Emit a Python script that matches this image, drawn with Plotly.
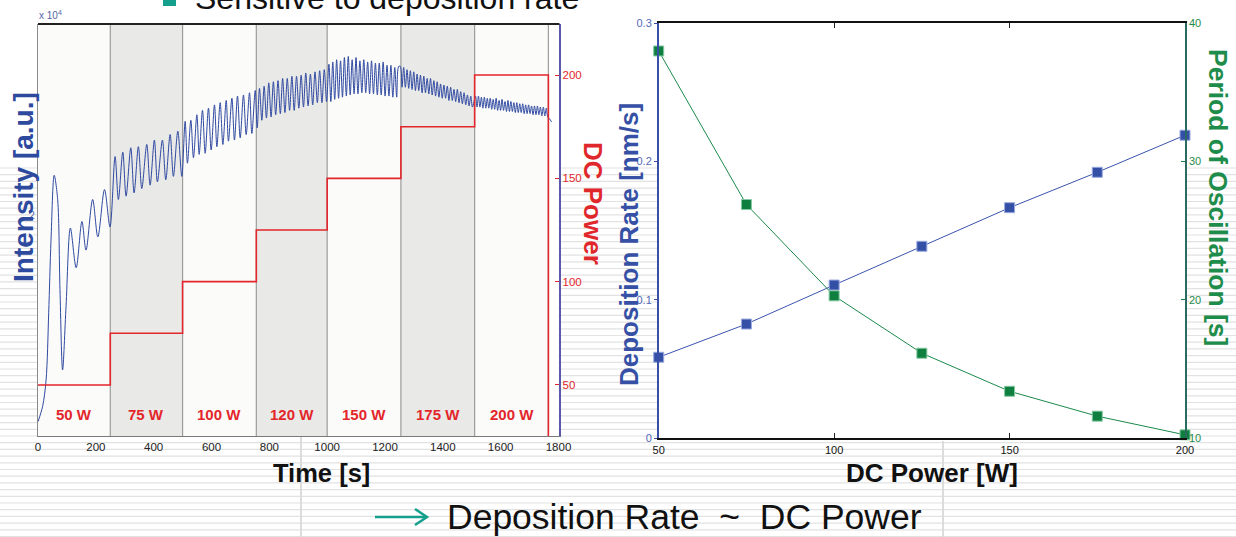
import plotly.graph_objects as go

W, H = 1236, 537

def px(x):
    return x / W

def py(y):
    return 1 - y / H

FONT = "Liberation Sans, Arial, Helvetica, sans-serif"

# ---------------- left chart data ----------------
time_ticks = [0, 200, 400, 600, 800, 1000, 1200, 1400, 1600, 1800]
step_bounds = [0, 250, 500, 755, 1000, 1255, 1510, 1765]
dc_power_steps = [50, 75, 100, 125, 150, 175, 200]
step_labels = ["50 W", "75 W", "100 W", "120 W", "150 W", "175 W", "200 W"]
power_axis_ticks = [50, 100, 150, 200]
power_axis_range = [25.3, 224.7]
intensity_range = [0.0, 3.745]

# intensity trace (x 10^4 a.u.): start-up transient
seg1_t = [0, 16, 28, 37, 45, 56, 68, 76, 85, 97, 112, 132, 152, 166, 189, 207, 230, 249]
seg1_I = [0.13, 0.27, 0.51, 1.12, 1.78, 2.37, 2.15, 1.33, 0.60, 1.18, 1.89, 1.53, 1.95, 1.69, 2.15, 1.81, 2.24, 1.90]

# oscillation maxima / minima, per power step
seg2_peak_t = [266.5, 293.2, 320.9, 347.1, 376.2, 402.5, 430.2, 456.9, 483.5]
seg2_peak_I = [2.54, 2.58, 2.62, 2.63, 2.65, 2.69, 2.69, 2.74, 2.77]
seg2_trough_t = [278.0, 304.6, 332.3, 359.0, 387.7, 412.9, 441.9, 468.2, 497.3]
seg2_trough_I = [2.15, 2.18, 2.21, 2.25, 2.28, 2.31, 2.33, 2.36, 2.36]

seg3_peak_t = [508.8, 528.6, 549.4, 568.8, 589.5, 610.3, 630.0, 650.8, 670.5, 689.9, 710.6, 731.4, 751.2]
seg3_peak_I = [2.86, 2.87, 2.92, 2.96, 2.98, 3.01, 3.03, 3.05, 3.07, 3.09, 3.10, 3.12, 3.14]
seg3_trough_t = [516.8, 537.6, 557.3, 578.1, 598.8, 618.6, 639.3, 658.6, 679.4, 699.2, 719.9, 739.6, 758.0]
seg3_trough_I = [2.48, 2.53, 2.56, 2.57, 2.60, 2.63, 2.65, 2.68, 2.69, 2.71, 2.74, 2.75, 2.80]

seg4_peak_t = [766, 782, 798, 814, 830, 846, 862, 878, 894, 910, 926, 942, 958, 974, 990]
seg4_peak_I = [3.16, 3.18, 3.21, 3.22, 3.23, 3.25, 3.25, 3.27, 3.27, 3.28, 3.30, 3.29, 3.31, 3.32, 3.33]
seg4_trough_t = [774, 790, 806, 822, 838, 854, 870, 886, 902, 918, 934, 950, 966, 982, 998]
seg4_trough_I = [2.87, 2.89, 2.90, 2.92, 2.93, 2.94, 2.96, 2.96, 2.98, 2.99, 3.00, 3.01, 3.03, 3.03, 3.04]

seg5_peak_t = [1006.0, 1019.4, 1032.8, 1046.2, 1059.6, 1073.0, 1086.4, 1099.8, 1113.2, 1126.6,
               1140.0, 1153.4, 1166.8, 1180.2, 1193.6, 1207.0, 1220.4, 1233.8, 1247.2]
seg5_peak_I = [3.38, 3.40, 3.42, 3.41, 3.44, 3.45, 3.42, 3.44, 3.41, 3.42,
               3.40, 3.41, 3.39, 3.39, 3.40, 3.37, 3.37, 3.35, 3.36]
seg5_trough_t = [1012.7, 1026.1, 1039.5, 1052.9, 1066.3, 1079.7, 1093.1, 1106.5, 1119.9,
                 1133.3, 1146.7, 1160.1, 1173.5, 1186.9, 1200.3, 1213.7, 1227.1, 1240.5]
seg5_trough_I = [3.04, 3.06, 3.07, 3.08, 3.09, 3.10, 3.11, 3.11, 3.12,
                 3.12, 3.11, 3.11, 3.10, 3.10, 3.09, 3.09, 3.08, 3.08]

seg6_peak_t = [1253.0, 1264.6, 1276.2, 1287.8, 1299.4, 1311.0, 1322.6, 1334.2, 1345.8, 1357.4, 1369.0,
               1380.6, 1392.2, 1403.8, 1415.4, 1427.0, 1438.6, 1450.2, 1461.8, 1473.4, 1485.0, 1496.6]
seg6_peak_I = [3.36, 3.35, 3.33, 3.32, 3.31, 3.29, 3.28, 3.27, 3.25, 3.25, 3.23,
               3.22, 3.20, 3.19, 3.18, 3.17, 3.15, 3.15, 3.13, 3.12, 3.10, 3.09]
seg6_trough_t = [1258.8, 1270.4, 1282.0, 1293.6, 1305.2, 1316.8, 1328.4, 1340.0, 1351.6, 1363.2, 1374.8,
                 1386.4, 1398.0, 1409.6, 1421.2, 1432.8, 1444.4, 1456.0, 1467.6, 1479.2, 1490.8, 1502.4]
seg6_trough_I = [3.17, 3.17, 3.16, 3.15, 3.14, 3.14, 3.12, 3.12, 3.11, 3.10, 3.09,
                 3.08, 3.07, 3.07, 3.05, 3.05, 3.04, 3.03, 3.02, 3.01, 3.00, 2.99]

seg7_peak_t = [1513.0, 1523.2, 1533.4, 1543.6, 1553.8, 1564.0, 1574.2, 1584.4, 1594.6, 1604.8, 1615.0, 1625.2,
               1635.4, 1645.6, 1655.8, 1666.0, 1676.2, 1686.4, 1696.6, 1706.8, 1717.0, 1727.2, 1737.4, 1747.6, 1757.8]
seg7_peak_I = [3.09, 3.09, 3.08, 3.08, 3.07, 3.07, 3.06, 3.07, 3.05, 3.06, 3.04, 3.05,
               3.04, 3.03, 3.03, 3.02, 3.02, 3.01, 3.01, 3.00, 3.00, 3.00, 2.99, 2.99, 2.98]
seg7_trough_t = [1518.1, 1528.3, 1538.5, 1548.7, 1558.9, 1569.1, 1579.3, 1589.5, 1599.7, 1609.9, 1620.1, 1630.3,
                 1640.5, 1650.7, 1660.9, 1671.1, 1681.3, 1691.5, 1701.7, 1711.9, 1722.1, 1732.3, 1742.5, 1752.7, 1762.9]
seg7_trough_I = [2.99, 2.99, 2.98, 2.98, 2.98, 2.97, 2.97, 2.96, 2.96, 2.96, 2.95, 2.95,
                 2.95, 2.94, 2.94, 2.94, 2.93, 2.93, 2.93, 2.92, 2.92, 2.92, 2.91, 2.91, 2.90]
tail_t = [1770, 1776]
tail_I = [2.88, 2.855]

# ---------------- right chart data ----------------
power_w = [50, 75, 100, 125, 150, 175, 200]
dep_rate = [0.0586, 0.0826, 0.1108, 0.1388, 0.1667, 0.1923, 0.2191]
osc_period = [38.0, 26.9, 20.3, 16.15, 13.4, 11.6, 10.25]
power_ticks = [50, 100, 150, 200]
rate_ticks = [0, 0.1, 0.2, 0.3]
rate_tick_text = ["0", "0.1", "0.2", "0.3"]
period_ticks = [10, 20, 30, 40]

# ---------------- assemble intensity series ----------------
pairs = list(zip(seg1_t, seg1_I))
for pt, pi, tt, ti in [
    (seg2_peak_t, seg2_peak_I, seg2_trough_t, seg2_trough_I),
    (seg3_peak_t, seg3_peak_I, seg3_trough_t, seg3_trough_I),
    (seg4_peak_t, seg4_peak_I, seg4_trough_t, seg4_trough_I),
    (seg5_peak_t, seg5_peak_I, seg5_trough_t, seg5_trough_I),
    (seg6_peak_t, seg6_peak_I, seg6_trough_t, seg6_trough_I),
    (seg7_peak_t, seg7_peak_I, seg7_trough_t, seg7_trough_I),
]:
    pairs += list(zip(pt, pi)) + list(zip(tt, ti))
pairs += list(zip(tail_t, tail_I))
pairs.sort(key=lambda p: p[0])
int_t = [p[0] for p in pairs]
int_v = [p[1] for p in pairs]

BLUE = "#2f49a1"
RED = "#e3262b"
GREEN = "#0f7f3f"
TEAL = "#14a08d"

fig = go.Figure()

fig.add_trace(go.Scatter(
    x=int_t, y=int_v, mode="lines", line=dict(color=BLUE, width=1, shape="spline", smoothing=0.9),
    xaxis="x", yaxis="y", showlegend=False, hoverinfo="skip"))

step_x = step_bounds[:-1] + [step_bounds[-1], step_bounds[-1]]
step_y = dc_power_steps + [dc_power_steps[-1], power_axis_range[0]]
fig.add_trace(go.Scatter(
    x=step_x, y=step_y, mode="lines", line=dict(color=RED, width=1.6, shape="hv"),
    xaxis="x", yaxis="y2", showlegend=False, hoverinfo="skip"))

fig.add_trace(go.Scatter(
    x=power_w, y=dep_rate, mode="lines+markers",
    line=dict(color="#3a54ad", width=1),
    marker=dict(symbol="square", size=10, color="#3450a6", line=dict(color="#9aaae0", width=1)),
    xaxis="x2", yaxis="y3", showlegend=False, cliponaxis=False))

fig.add_trace(go.Scatter(
    x=power_w, y=osc_period, mode="lines+markers",
    line=dict(color="#1a8a4a", width=1),
    marker=dict(symbol="square", size=10, color=GREEN, line=dict(color="#86c9a3", width=1)),
    xaxis="x2", yaxis="y4", showlegend=False, cliponaxis=False))

L_X0, L_X1, L_Y0, L_Y1 = 38, 558.5, 24, 436
R_X0, R_X1, R_Y0, R_Y1 = 658.7, 1185, 23.3, 438.3

fig.update_layout(
    width=W, height=H,
    margin=dict(l=0, r=0, t=0, b=0, autoexpand=False),
    paper_bgcolor="white", plot_bgcolor="white",
    font=dict(family=FONT),
    xaxis=dict(domain=[px(L_X0), px(L_X1)], range=[0, 1800], tickvals=time_ticks,
               showline=True, linecolor="#7a7a7a", linewidth=1.2, ticks="",
               tickfont=dict(size=11.5, color="#222"), showgrid=False, zeroline=False, anchor="y"),
    yaxis=dict(domain=[py(L_Y1), py(L_Y0)], range=intensity_range, tickvals=[2], ticktext=["2"],
               showline=True, linecolor="#8a8a8a", linewidth=1.2, ticks="",
               tickfont=dict(size=10, color="#5566aa"), showgrid=False, zeroline=False, anchor="x"),
    yaxis2=dict(overlaying="y", side="right", range=power_axis_range, tickvals=power_axis_ticks,
                showline=True, linecolor="#5a5aa8", linewidth=1.5, ticks="inside", ticklen=4,
                tickcolor=RED, tickfont=dict(size=11.5, color=RED), showgrid=False, zeroline=False,
                anchor="x"),
    xaxis2=dict(domain=[px(R_X0), px(R_X1)], range=[50, 200], tickvals=power_ticks,
                showline=True, linecolor="#111", linewidth=2.2, ticks="inside", ticklen=5,
                tickcolor="#222", mirror="ticks", tickfont=dict(size=11, color="#111"),
                showgrid=False, zeroline=False, anchor="y3"),
    yaxis3=dict(domain=[py(R_Y1), py(R_Y0)], range=[0, 0.3], tickvals=rate_ticks, ticktext=rate_tick_text,
                showline=True, linecolor="#3a50a8", linewidth=1.5, ticks="outside", ticklen=3,
                tickcolor="#3a50a8", tickfont=dict(size=11, color="#5468b8"), showgrid=False,
                zeroline=False, anchor="x2"),
    yaxis4=dict(overlaying="y3", side="right", range=[10, 40], tickvals=period_ticks,
                showline=True, linecolor="#2a6a60", linewidth=1.5, ticks="inside", ticklen=4,
                tickcolor="#208050", tickfont=dict(size=11, color="#1f8a4c"), showgrid=False,
                zeroline=False, anchor="x2"),
)

shapes = []
# slide background stripes
y = 168.0
while y < H:
    shapes.append(dict(type="line", xref="paper", yref="paper", x0=0, x1=1, y0=py(y), y1=py(y),
                       line=dict(color="#e2e2e2", width=1.2), layer="below"))
    y += 6.7
for vx, vy0 in [(301, 437), (943, 441)]:
    shapes.append(dict(type="line", xref="paper", yref="paper", x0=px(vx), x1=px(vx), y0=py(vy0), y1=0,
                       line=dict(color="#dcdcdc", width=2), layer="below"))
# cover plot areas
for (a, b, c, d) in [(L_X0, L_X1, L_Y0, L_Y1), (R_X0, R_X1, R_Y0, R_Y1)]:
    shapes.append(dict(type="rect", xref="paper", yref="paper", x0=px(a), x1=px(b), y0=py(d), y1=py(c),
                       fillcolor="white", line=dict(width=0), layer="below"))
# power-step regions
for i in range(len(dc_power_steps)):
    shapes.append(dict(type="rect", xref="x", yref="y domain", x0=step_bounds[i], x1=step_bounds[i + 1],
                       y0=0, y1=1, fillcolor="#fbfbf9" if i % 2 == 0 else "#e9e9e7",
                       line=dict(width=0), layer="below"))
for b in step_bounds[1:]:
    shapes.append(dict(type="line", xref="x", yref="y domain", x0=b, x1=b, y0=0, y1=1,
                       line=dict(color="#9c9c9c", width=1.2), layer="below"))
# top border of left chart
shapes.append(dict(type="line", xref="paper", yref="paper", x0=px(L_X0), x1=px(559.5), y0=py(L_Y0), y1=py(L_Y0),
                   line=dict(color="#222", width=2)))
# bullet square
shapes.append(dict(type="rect", xref="paper", yref="paper", x0=px(163), x1=px(176), y0=py(6), y1=py(-8),
                   fillcolor=TEAL, line=dict(width=0)))
# arrow
shapes.append(dict(type="line", xref="paper", yref="paper", x0=px(375), x1=px(426), y0=py(517), y1=py(517),
                   line=dict(color=TEAL, width=2.5)))
shapes.append(dict(type="path", xref="paper", yref="paper",
                   path=f"M {px(415)},{py(509)} L {px(427)},{py(517)} L {px(415)},{py(525)}",
                   line=dict(color=TEAL, width=2.5)))
fig.update_layout(shapes=shapes)

ann = []
def add_text(text, x, y, size, color, angle=0, xanchor="center", yanchor="middle", xref="paper", xv=None):
    ann.append(dict(text=text, x=(xv if xv is not None else px(x)), y=py(y), xref=xref, yref="paper",
                    showarrow=False, textangle=angle, xanchor=xanchor, yanchor=yanchor,
                    font=dict(family=FONT, size=size, color=color)))

add_text("x 10<sup>4</sup>", 37, 15, 10, "#5565a8", xanchor="left")
add_text("<b>Intensity [a.u.]</b>", 23, 187, 28, "#2e4a9e", angle=-90)
add_text("<b>DC Power</b>", 593, 203, 26, "#e0282c", angle=90)
add_text("<b>Time [s]</b>", 321, 473, 25.5, "#111")
add_text("<b>Deposition Rate [nm/s]</b>", 629, 245, 26, "#3550a5", angle=-90)
add_text("<b>Period of Oscillation [s]</b>", 1218, 197, 26.5, "#1e8c4a", angle=90)
add_text("<b>DC Power [W]</b>", 932, 473, 26, "#111")
for i, lab in enumerate(step_labels):
    mid = (step_bounds[i] + step_bounds[i + 1]) / 2
    add_text(f"<b>{lab}</b>", 0, 414, 15, "#e3262b", xref="x", xv=mid)
add_text("Sensitive to deposition rate", 193, -2, 32, "#111", xanchor="left")
add_text("Deposition Rate  ~  DC Power", 445, 517, 35.5, "#111", xanchor="left")
fig.update_layout(annotations=ann)

fig.write_html("out.html")
